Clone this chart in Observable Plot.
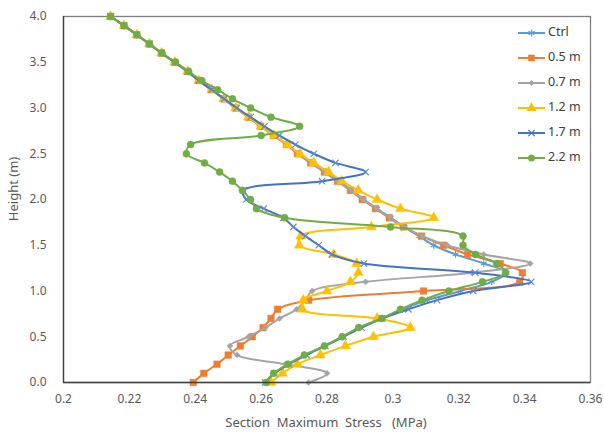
<!DOCTYPE html>
<html><head><meta charset="utf-8">
<script src="https://cdn.jsdelivr.net/npm/d3@7"></script>
<script src="https://cdn.jsdelivr.net/npm/@observablehq/plot@0.6"></script>
<style>
body{margin:0;background:#fff;}
#wrap{position:relative;width:604px;height:433px;font-family:"Noto Sans",sans-serif;}
#wrap svg{position:absolute;left:0;top:0;}
</style></head><body><div id="wrap"></div>
<script>
// Heights (m), 0.0 .. 4.0
const heights = [0.0,0.1,0.2,0.3,0.4,0.5,0.6,0.7,0.8,0.9,1.0,1.1,1.2,1.3,1.4,1.5,1.6,1.7,1.8,1.9,2.0,2.1,2.2,2.3,2.4,2.5,2.6,2.7,2.8,2.9,3.0,3.1,3.2,3.3,3.4,3.5,3.6,3.7,3.8,3.9,4.0];
const seriesNames = ["Ctrl","0.5 m","0.7 m","1.2 m","1.7 m","2.2 m"];

const ctrl = [0.2615,0.2640,0.2683,0.2735,0.2793,0.2848,0.2900,0.2965,0.3030,0.3105,0.3205,0.3300,0.3345,0.3276,0.3190,0.3124,0.3080,0.3035,0.2993,0.2952,0.2912,0.2875,0.2836,0.2796,0.2754,0.2714,0.2680,0.2640,0.2600,0.2563,0.2522,0.2486,0.2449,0.2410,0.2376,0.2337,0.2297,0.2260,0.2222,0.2183,0.2143];
const m05 = [0.2394,0.2426,0.2466,0.2500,0.2537,0.2573,0.2606,0.2630,0.2650,0.2744,0.3093,0.3385,0.3393,0.3326,0.3227,0.3154,0.3087,0.3032,0.2989,0.2947,0.2907,0.2871,0.2832,0.2792,0.2750,0.2710,0.2677,0.2637,0.2598,0.2561,0.2522,0.2486,0.2449,0.2410,0.2376,0.2337,0.2297,0.2260,0.2222,0.2183,0.2143];
const m07 = [0.2744,0.2800,0.2674,0.2527,0.2505,0.2562,0.2613,0.2656,0.2708,0.2735,0.2755,0.2917,0.3240,0.3417,0.3276,0.3165,0.3090,0.3035,0.2992,0.2950,0.2910,0.2873,0.2834,0.2794,0.2752,0.2712,0.2678,0.2638,0.2599,0.2562,0.2523,0.2487,0.2450,0.2411,0.2377,0.2338,0.2298,0.2261,0.2223,0.2184,0.2143];
const m12 = [0.2630,0.2665,0.2710,0.2780,0.2856,0.2941,0.3053,0.2952,0.2726,0.2728,0.2800,0.2871,0.2895,0.2890,0.2820,0.2716,0.2720,0.2935,0.3124,0.3023,0.2952,0.2895,0.2845,0.2805,0.2760,0.2718,0.2680,0.2640,0.2600,0.2562,0.2523,0.2487,0.2450,0.2411,0.2377,0.2338,0.2298,0.2261,0.2223,0.2184,0.2143];
const m17 = [0.2612,0.2640,0.2685,0.2738,0.2795,0.2850,0.2905,0.2967,0.3047,0.3134,0.3244,0.3420,0.3250,0.2912,0.2815,0.2775,0.2735,0.2698,0.2668,0.2608,0.2555,0.2546,0.2785,0.2917,0.2826,0.2760,0.2704,0.2655,0.2610,0.2568,0.2526,0.2488,0.2450,0.2411,0.2377,0.2338,0.2298,0.2261,0.2223,0.2184,0.2143];
const m22 = [0.2615,0.2638,0.2681,0.2731,0.2792,0.2846,0.2896,0.2967,0.3023,0.3089,0.3170,0.3272,0.3342,0.3315,0.3251,0.3213,0.3213,0.2993,0.2671,0.2586,0.2568,0.2543,0.2513,0.2474,0.2428,0.2373,0.2386,0.2600,0.2717,0.2630,0.2568,0.2513,0.2468,0.2420,0.2380,0.2340,0.2299,0.2261,0.2223,0.2184,0.2143];

const xTicks = [0.2,0.22,0.24,0.26,0.28,0.3,0.32,0.34,0.36];
const yTicks = [0,0.5,1,1.5,2,2.5,3,3.5,4];

// styles
const colors = ["#5B9BD5","#ED7D31","#A5A5A5","#FFC000","#4472C4","#70AD47"];
const symbols = ["asterisk","square","diamond2","triangle","times","circle"];
const d3symbols = [d3.symbolAsterisk,d3.symbolSquare,d3.symbolDiamond2,d3.symbolTriangle,d3.symbolTimes,d3.symbolCircle];
const stroked = [true,false,false,false,true,false];
const radii = [3.2,3.7,2.7,3.7,3.0,3.5];

const allValues = [ctrl,m05,m07,m12,m17,m22];
const marks = [];
allValues.forEach((vals, i) => {
  const rows = vals.map((v, j) => ({v, h: heights[j]}));
  marks.push(Plot.line(rows, {x: "v", y: "h", stroke: colors[i], strokeWidth: 2, curve: "catmull-rom"}));
  marks.push(Plot.dot(rows, stroked[i]
    ? {x: "v", y: "h", symbol: () => symbols[i], r: radii[i], stroke: i === 4 ? "#5F88D2" : colors[i], strokeWidth: 1.1, fill: "none"}
    : {x: "v", y: "h", symbol: () => symbols[i], r: radii[i], fill: colors[i], stroke: colors[i], strokeWidth: 0.5}));
});

const chart = Plot.plot({
  width: 604, height: 433,
  marginLeft: 63, marginRight: 14, marginTop: 16, marginBottom: 51,
  style: {fontSize: "12px", fontFamily: "'Noto Sans', sans-serif", color: "#595959", background: "white"},
  x: {domain: [0.2, 0.36], ticks: xTicks, tickFormat: d => String(+d.toFixed(2)), tickSize: 0, tickPadding: 12, label: null},
  y: {domain: [0, 4], ticks: yTicks, tickFormat: d3.format(".1f"), tickSize: 0, tickPadding: 17, label: null},
  symbol: {type: "identity"},
  marks: [
    Plot.frame({stroke: "#7f7f7f", strokeWidth: 1.3}),
    ...marks,
    Plot.ruleX([0.2], {stroke: "#404040", strokeWidth: 1.3}),
    Plot.ruleY([0], {stroke: "#404040", strokeWidth: 1.3})
  ]
});
const wrap = document.getElementById("wrap");
wrap.appendChild(chart);

// overlay: axis titles and legend
const ov = d3.select(wrap).append("svg").attr("width", 604).attr("height", 433)
  .style("pointer-events", "none").style("font-family", "'Noto Sans', sans-serif").style("font-size", "13px");
ov.append("text").attr("x", 326).attr("y", 424).attr("text-anchor", "middle").attr("dominant-baseline", "middle")
  .attr("fill", "#595959").attr("xml:space", "preserve").style("white-space", "pre")
  .text("Section  Maximum  Stress   (MPa)");
ov.append("text").attr("transform", "translate(15,189) rotate(-90)").attr("text-anchor", "middle")
  .attr("dominant-baseline", "middle").attr("fill", "#595959").text("Height (m)");

const legendY = [33, 58, 83, 108, 133, 158];
seriesNames.forEach((name, i) => {
  const g = ov.append("g").attr("transform", `translate(0,${legendY[i]})`);
  g.append("line").attr("x1", 518).attr("x2", 545).attr("y1", 0).attr("y2", 0).attr("stroke", colors[i]).attr("stroke-width", 2);
  const size = Math.PI * radii[i] * radii[i];
  const p = g.append("path").attr("transform", "translate(531.5,0)").attr("d", d3.symbol(d3symbols[i], size)());
  if (stroked[i]) p.attr("fill", "none").attr("stroke", colors[i]).attr("stroke-width", 1.2);
  else p.attr("fill", colors[i]);
  g.append("text").attr("x", 548).attr("y", 0).attr("dominant-baseline", "middle").attr("fill", "#404040").style("font-size", "12.5px").text(name);
});
</script></body></html>
